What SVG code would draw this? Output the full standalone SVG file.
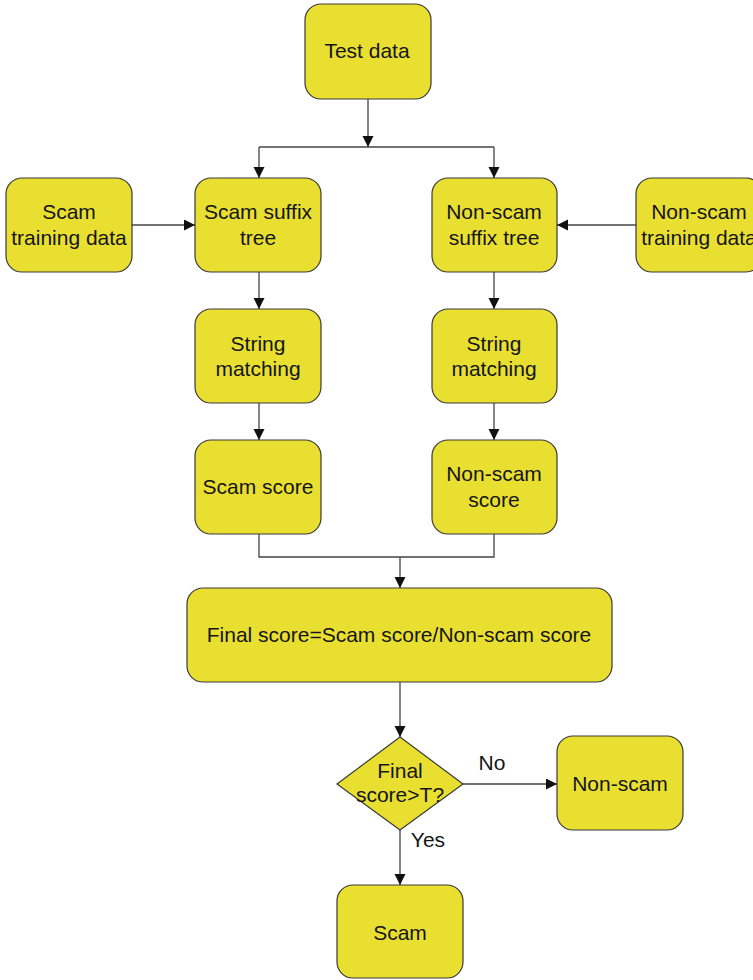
<svg xmlns="http://www.w3.org/2000/svg" width="753" height="980" viewBox="0 0 753 980">
<style>
.n{fill:#e9df31;stroke:#3a3a3a;stroke-width:1.2}
text{font-family:"Liberation Sans",Arial,sans-serif;font-size:21px;fill:#151515;text-anchor:middle}
.c{fill:none;stroke:#444;stroke-width:1.3}
</style>
<defs>
<marker id="a" markerWidth="12" markerHeight="12" refX="11" refY="5.5" orient="auto" markerUnits="userSpaceOnUse">
<path d="M0,0 L11,5.5 L0,11 Z" fill="#111"/>
</marker>
</defs>
<rect width="753" height="980" fill="#fff"/>
<g id="connectors">
<path class="c" d="M368,99 V147" marker-end="url(#a)"/>
<path class="c" d="M259,147 H494"/>
<path class="c" d="M259,147 V178" marker-end="url(#a)"/>
<path class="c" d="M494,147 V178" marker-end="url(#a)"/>
<path class="c" d="M132,225 H195" marker-end="url(#a)"/>
<path class="c" d="M636,225 H557" marker-end="url(#a)"/>
<path class="c" d="M259,272 V309" marker-end="url(#a)"/>
<path class="c" d="M494,272 V309" marker-end="url(#a)"/>
<path class="c" d="M259,403 V440" marker-end="url(#a)"/>
<path class="c" d="M494,403 V440" marker-end="url(#a)"/>
<path class="c" d="M259,534 V557 H494 V534"/>
<path class="c" d="M400,557 V588" marker-end="url(#a)"/>
<path class="c" d="M400,682 V737" marker-end="url(#a)"/>
<path class="c" d="M463,784 H557" marker-end="url(#a)"/>
<path class="c" d="M400,830 V885" marker-end="url(#a)"/>
<text x="492" y="770">No</text>
<text x="428" y="847">Yes</text>
</g>
<g id="test-data"><rect class="n" x="305" y="4" width="126" height="95" rx="16"/><text x="367" y="58">Test data</text></g>
<g id="scam-training"><rect class="n" x="6" y="178" width="126" height="94" rx="16"/><text x="69" y="219">Scam</text><text x="69" y="245">training data</text></g>
<g id="scam-suffix"><rect class="n" x="195" y="178" width="126" height="94" rx="16"/><text x="258" y="219">Scam suffix</text><text x="258" y="245">tree</text></g>
<g id="nonscam-suffix"><rect class="n" x="432" y="178" width="125" height="94" rx="16"/><text x="494" y="219">Non-scam</text><text x="494" y="245">suffix tree</text></g>
<g id="nonscam-training"><rect class="n" x="636" y="178" width="126" height="94" rx="16"/><text x="699" y="219">Non-scam</text><text x="699" y="245">training data</text></g>
<g id="scam-string"><rect class="n" x="195" y="309" width="126" height="94" rx="16"/><text x="258" y="351">String</text><text x="258" y="376">matching</text></g>
<g id="nonscam-string"><rect class="n" x="432" y="309" width="125" height="94" rx="16"/><text x="494" y="351">String</text><text x="494" y="376">matching</text></g>
<g id="scam-score"><rect class="n" x="195" y="440" width="126" height="94" rx="16"/><text x="258" y="494">Scam score</text></g>
<g id="nonscam-score"><rect class="n" x="432" y="440" width="125" height="94" rx="16"/><text x="494" y="481">Non-scam</text><text x="494" y="507">score</text></g>
<g id="final-score"><rect class="n" x="187" y="588" width="425" height="94" rx="16"/><text x="399" y="642">Final score=Scam score/Non-scam score</text></g>
<g id="decision"><path class="n" d="M400,737 L463,784 L400,830 L337,784 Z"/><text x="400" y="778">Final</text><text x="400" y="802">score&gt;T?</text></g>
<g id="non-scam"><rect class="n" x="557" y="736" width="126" height="94" rx="16"/><text x="620" y="791">Non-scam</text></g>
<g id="scam"><rect class="n" x="337" y="885" width="126" height="93" rx="16"/><text x="400" y="940">Scam</text></g>
</svg>
